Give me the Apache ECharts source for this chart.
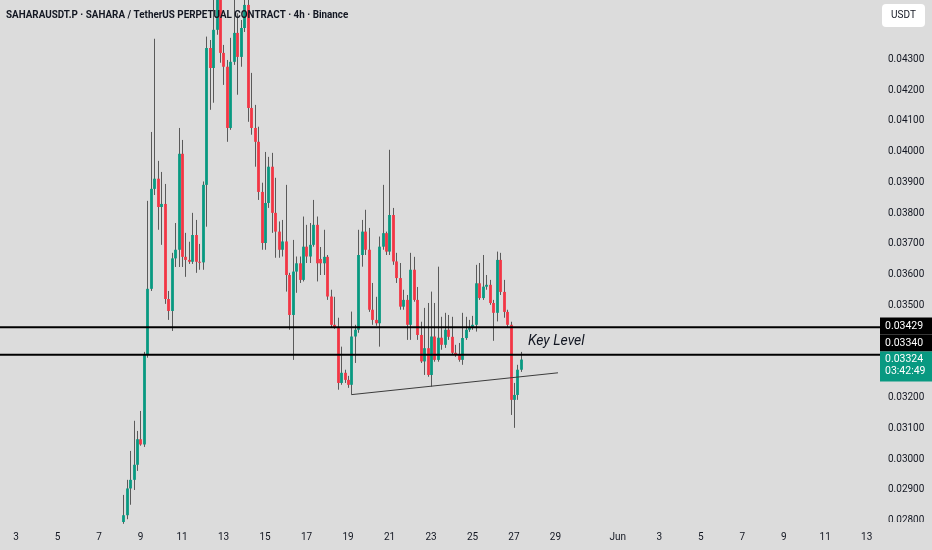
<!DOCTYPE html>
<html>
<head>
<meta charset="utf-8">
<script src="https://cdn.jsdelivr.net/npm/echarts@6/dist/echarts.min.js"></script>
<style>
html,body{margin:0;padding:0;background:#dcdcdc;}
#c{width:932px;height:550px;}
</style>
</head>
<body>
<div id="c"></div>
<script>
// ---- data ----
const titleText = 'SAHARAUSDT.P · SAHARA / TetherUS PERPETUAL CONTRACT · 4h · Binance';
const firstBarDay = 8 + 4 / 24;   // May 8, 04:00 (day-of-May units)
const barDays = 4 / 24;           // 4h bars

const opens = [
0.02796,0.02818,0.02905,0.02933,0.02982,0.03065,0.03048,0.03339,0.03554,0.03879,
0.03912,0.03820,0.03830,0.03521,0.03482,0.03653,0.03681,0.03993,0.03658,0.03648,
0.03642,0.03729,0.03642,0.03640,0.03892,0.04337,0.04272,0.04396,0.04519,0.04321,
0.04276,0.04077,0.04292,0.04386,0.04308,0.04402,0.04477,0.04142,0.04077,0.04032,
0.03869,0.03703,0.03833,0.03951,0.03801,0.03740,0.03681,0.03708,0.03599,0.03469,
0.03610,0.03637,0.03583,0.03691,0.03659,0.03697,0.03762,0.03651,0.03637,0.03658,
0.03529,0.03437,0.03430,0.03248,0.03281,0.03258,0.03242,0.03399,0.03421,0.03664,
0.03740,0.03681,0.03486,0.03453,0.03442,0.03691,0.03735,0.03675,0.03794,0.03643,
0.03589,0.03496,0.03518,0.03437,0.03616,0.03518,0.03404,0.03318,0.03361,0.03274,
0.03399,0.03323,0.03395,0.03372,0.03421,0.03398,0.03346,0.03339,0.03323,0.03394,
0.03421,0.03430,0.03437,0.03572,0.03524,0.03561,0.03567,0.03508,0.03476,0.03648,
0.03544,0.03479,0.03437,0.03193,0.03209,0.03291];
const closes = [
0.02818,0.02905,0.02933,0.02982,0.03065,0.03048,0.03339,0.03554,0.03879,0.03912,
0.03820,0.03830,0.03521,0.03482,0.03653,0.03681,0.03993,0.03658,0.03648,0.03642,
0.03729,0.03642,0.03640,0.03892,0.04337,0.04272,0.04396,0.04519,0.04321,0.04276,
0.04077,0.04292,0.04386,0.04308,0.04402,0.04477,0.04142,0.04077,0.04032,0.03869,
0.03703,0.03833,0.03951,0.03801,0.03740,0.03681,0.03708,0.03599,0.03469,0.03610,
0.03637,0.03583,0.03691,0.03659,0.03697,0.03762,0.03637,0.03637,0.03658,0.03529,
0.03437,0.03430,0.03248,0.03281,0.03258,0.03242,0.03399,0.03421,0.03664,0.03740,
0.03681,0.03486,0.03453,0.03442,0.03691,0.03735,0.03675,0.03794,0.03643,0.03589,
0.03496,0.03518,0.03437,0.03616,0.03518,0.03404,0.03318,0.03361,0.03274,0.03399,
0.03323,0.03395,0.03372,0.03421,0.03398,0.03346,0.03339,0.03323,0.03394,0.03421,
0.03430,0.03437,0.03572,0.03524,0.03561,0.03567,0.03508,0.03476,0.03648,0.03544,
0.03479,0.03437,0.03193,0.03209,0.03291,0.03324];
const highs = [
0.02884,0.02933,0.03027,0.03125,0.03092,0.03157,0.03349,0.03840,0.04064,0.04367,
0.03970,0.03934,0.03895,0.03547,0.03671,0.03768,0.04077,0.04038,0.03736,0.03707,
0.03801,0.03778,0.03700,0.03903,0.04374,0.04363,0.04510,0.04558,0.04540,0.04347,
0.04298,0.04370,0.04510,0.04450,0.04428,0.04526,0.04526,0.04256,0.04152,0.04081,
0.03899,0.03999,0.03983,0.03996,0.03915,0.03773,0.03778,0.03892,0.03606,0.03713,
0.03659,0.03659,0.03789,0.03762,0.03768,0.03843,0.03789,0.03690,0.03746,0.03664,
0.03551,0.03528,0.03460,0.03366,0.03291,0.03271,0.03480,0.03437,0.03746,0.03778,
0.03811,0.03752,0.03573,0.03528,0.03724,0.03892,0.03740,0.04006,0.03817,0.03671,
0.03638,0.03551,0.03534,0.03671,0.03658,0.03560,0.03447,0.03492,0.03508,0.03545,
0.03508,0.03626,0.03463,0.03476,0.03469,0.03463,0.03372,0.03378,0.03476,0.03463,
0.03453,0.03466,0.03632,0.03638,0.03664,0.03599,0.03583,0.03518,0.03675,0.03671,
0.03583,0.03486,0.03447,0.03248,0.03307,0.03349];
const lows = [
0.02790,0.02805,0.02852,0.02900,0.02962,0.03044,0.03040,0.03330,0.03547,0.03859,
0.03746,0.03697,0.03505,0.03453,0.03417,0.03625,0.03625,0.03625,0.03593,0.03635,
0.03635,0.03606,0.03616,0.03616,0.03756,0.04136,0.04159,0.04380,0.04289,0.04217,
0.04032,0.04071,0.04282,0.04185,0.04276,0.04389,0.04097,0.04055,0.03951,0.03843,
0.03681,0.03681,0.03817,0.03736,0.03655,0.03655,0.03659,0.03545,0.03421,0.03323,
0.03541,0.03573,0.03578,0.03638,0.03638,0.03691,0.03578,0.03599,0.03599,0.03518,
0.03430,0.03424,0.03226,0.03242,0.03248,0.03232,0.03210,0.03313,0.03411,0.03626,
0.03664,0.03479,0.03437,0.03434,0.03366,0.03681,0.03664,0.03664,0.03632,0.03573,
0.03486,0.03486,0.03388,0.03388,0.03512,0.03388,0.03313,0.03274,0.03268,0.03236,
0.03317,0.03317,0.03356,0.03362,0.03388,0.03339,0.03333,0.03317,0.03307,0.03388,
0.03414,0.03421,0.03415,0.03518,0.03518,0.03551,0.03502,0.03385,0.03448,0.03534,
0.03460,0.03430,0.03144,0.03102,0.03193,0.03284];

const keyLevels = [0.03429, 0.03340];
const keyLevelText = 'Key Level';
const lastPrice = 0.03324;
const countdown = '03:42:49';
const trendLine = [[19.1667, 0.03210], [29.12, 0.03281]];

const priceTicks = [0.043,0.042,0.041,0.040,0.039,0.038,0.037,0.036,0.035,0.032,0.031,0.030,0.029,0.028];
const dayTicks = [3,5,7,9,11,13,15,17,19,21,23,25,27,29,32,34,36,38,40,42,44];
const dayTickLabels = ['3','5','7','9','11','13','15','17','19','21','23','25','27','29','Jun','3','5','7','9','11','13'];

// ---- view settings ----
const xMin = 2.2289, xMax = 44.639;
const yMin = 0.0278, yMax = 0.04493;
const bg = '#dcdcdc';
const upColor = '#089981', downColor = '#f23645', wickColor = '#5a5a5a';
const textColor = '#131722';

const bars = opens.map((o, i) => [firstBarDay + i * barDays, o, closes[i], lows[i], highs[i]]);

const chart = echarts.init(document.getElementById('c'), null, {renderer: 'canvas'});

const levelSeries = keyLevels.map(v => ({
  type: 'line',
  data: [[xMin, v], [xMax, v]],
  symbol: 'none',
  clip: false,
  z: 4,
  silent: true,
  lineStyle: {color: '#000000', width: 2}
}));

const option = {
  backgroundColor: bg,
  animation: false,
  grid: {left: 0, right: 52, top: 0, bottom: 23.1, containLabel: false},
  xAxis: {
    type: 'value', min: xMin, max: xMax,
    axisLine: {show: false}, axisTick: {show: false}, splitLine: {show: false},
    axisLabel: {
      customValues: dayTicks,
      formatter: v => { const k = dayTicks.findIndex(t => Math.abs(t - v) < 1e-6); return k >= 0 ? dayTickLabels[k] : ''; },
      color: textColor, fontSize: 10, fontFamily: 'Roboto', margin: 6
    }
  },
  yAxis: {
    type: 'value', position: 'right', min: yMin, max: yMax, scale: true,
    axisLine: {show: false}, axisTick: {show: false}, splitLine: {show: false},
    axisLabel: {
      customValues: priceTicks,
      formatter: v => v.toFixed(5),
      color: textColor, fontSize: 10, fontFamily: 'Roboto', margin: 8
    }
  },
  series: [
    {
      type: 'custom',
      data: bars,
      encode: {x: 0, y: [1, 2, 3, 4]},
      clip: true,
      z: 2,
      renderItem: (params, api) => {
        const d = api.value(0), o = api.value(1), c = api.value(2), l = api.value(3), h = api.value(4);
        const pH = api.coord([d, h]), pL = api.coord([d, l]);
        const pO = api.coord([d, o]), pC = api.coord([d, c]);
        const cx = Math.round(pO[0]) + 0.5;
        const w = 2.8;
        const top = Math.min(pO[1], pC[1]);
        const ht = Math.max(Math.abs(pO[1] - pC[1]), 1);
        return {
          type: 'group',
          children: [
            {type: 'line', shape: {x1: cx, y1: pH[1], x2: cx, y2: pL[1]}, style: {stroke: wickColor, lineWidth: 1}},
            {type: 'rect', shape: {x: cx - w / 2, y: top, width: w, height: ht}, style: {fill: c >= o ? upColor : downColor}}
          ]
        };
      }
    },
    {
      type: 'line',
      data: trendLine,
      symbol: 'none',
      clip: false,
      silent: true,
      z: 3,
      lineStyle: {color: '#3c3c3c', width: 1}
    }
  ].concat(levelSeries)
};
chart.setOption(option);

// ---- overlays positioned through the chart's own scales ----
const yPix = v => chart.convertToPixel({yAxisIndex: 0}, v);
const xPix = v => chart.convertToPixel({xAxisIndex: 0}, v);
const gridR = xPix(xMax);
const boxW = 932 - gridR;
const yL1 = yPix(keyLevels[0]);
const yL2 = yPix(keyLevels[1]);
const yLast = yPix(lastPrice);
const greenTop = yLast - 8, greenH = 30;
const boxH = 17;
const box2Top = Math.min(yL2 - boxH / 2, greenTop - boxH);
const box1Top = Math.min(yL1 - boxH / 2, box2Top - boxH);
const lblFont = '10.5px Roboto';

const keyX = xPix(27.67);
const keyY = yPix((keyLevels[0] + keyLevels[1]) / 2) + 0.5;

chart.setOption({
  graphic: [
    {type: 'rect', z: 100, shape: {x: gridR, y: 522, width: boxW, height: 28}, style: {fill: bg}},
    {type: 'text', z: 101, x: 6, y: 15.5, scaleX: 0.895, style: {text: titleText, font: 'bold 11px Roboto', fill: textColor, textVerticalAlign: 'middle'}},
    {type: 'rect', z: 101, shape: {x: 882, y: 4, width: 43, height: 23, r: 4}, style: {fill: '#ffffff'}},
    {type: 'text', z: 102, x: 903.5, y: 15.5, style: {text: 'USDT', font: '10px Roboto', fill: textColor, textAlign: 'center', textVerticalAlign: 'middle'}},
    {type: 'text', z: 101, x: keyX, y: keyY, style: {text: keyLevelText, font: 'italic 14px Roboto', fill: textColor, textVerticalAlign: 'middle'}},
    {type: 'rect', z: 101, shape: {x: gridR, y: box1Top, width: boxW, height: boxH}, style: {fill: '#000000'}},
    {type: 'text', z: 102, x: gridR + 5, y: box1Top + boxH / 2, style: {text: keyLevels[0].toFixed(5), font: lblFont, fill: '#ffffff', textVerticalAlign: 'middle'}},
    {type: 'rect', z: 101, shape: {x: gridR, y: box2Top, width: boxW, height: boxH}, style: {fill: '#000000'}},
    {type: 'text', z: 102, x: gridR + 5, y: box2Top + boxH / 2, style: {text: keyLevels[1].toFixed(5), font: lblFont, fill: '#ffffff', textVerticalAlign: 'middle'}},
    {type: 'rect', z: 103, shape: {x: gridR, y: greenTop, width: boxW, height: greenH}, style: {fill: upColor}},
    {type: 'text', z: 104, x: gridR + 5, y: greenTop + 7.5, style: {text: lastPrice.toFixed(5), font: lblFont, fill: '#ffffff', textVerticalAlign: 'middle'}},
    {type: 'text', z: 104, x: gridR + 5, y: greenTop + 20, style: {text: countdown, font: lblFont, fill: '#ffffff', textVerticalAlign: 'middle'}}
  ]
});
</script>
</body>
</html>
